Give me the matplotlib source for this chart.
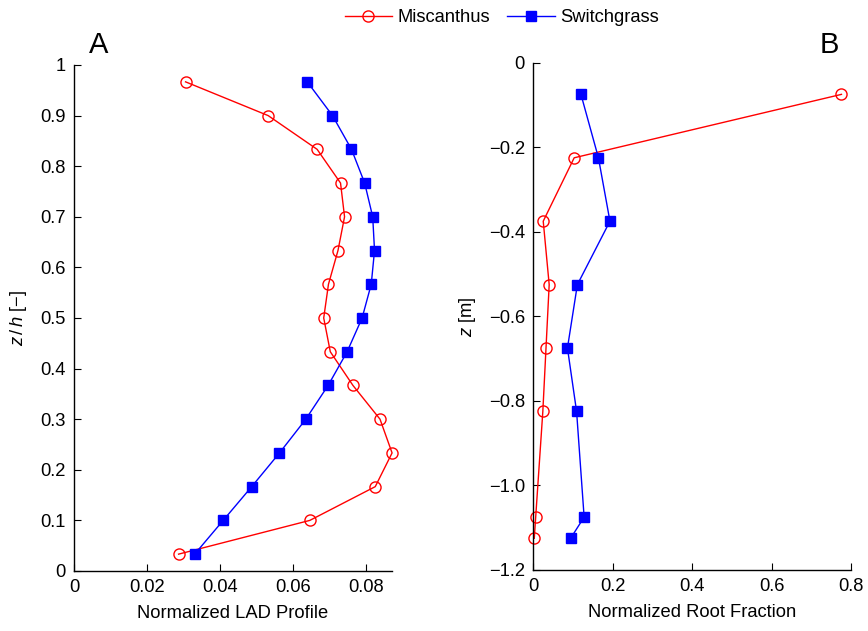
import matplotlib
matplotlib.use("Agg")
import matplotlib.pyplot as plt
from matplotlib.lines import Line2D

plt.rcParams["font.family"] = ["Liberation Sans", "DejaVu Sans"]
plt.rcParams["mathtext.fontset"] = "custom"
plt.rcParams["mathtext.it"] = "Liberation Sans:italic"
plt.rcParams["mathtext.rm"] = "Liberation Sans"

FS = 13.2

# Canopy: normalized height and leaf area density profile
z_h = [0.0333, 0.1, 0.1667, 0.2333, 0.3, 0.3667, 0.4333, 0.5,
       0.5667, 0.6333, 0.7, 0.7667, 0.8333, 0.9, 0.9667]
lad_misc = [0.0286, 0.0645, 0.0824, 0.0870, 0.0837, 0.0763, 0.0701, 0.0683,
            0.0696, 0.0722, 0.0740, 0.0729, 0.0665, 0.0531, 0.0305]
lad_switch = [0.0330, 0.0408, 0.0486, 0.0562, 0.0634, 0.0695, 0.0747, 0.0788,
              0.0813, 0.0822, 0.0817, 0.0795, 0.0759, 0.0707, 0.0638]

# Roots: depth [m] and normalized root fraction
depth = [-0.075, -0.225, -0.375, -0.525, -0.675, -0.825, -1.075, -1.125]
root_misc = [0.776, 0.103, 0.025, 0.040, 0.032, 0.024, 0.006, 0.0025]
root_switch = [0.120, 0.164, 0.193, 0.111, 0.086, 0.109, 0.128, 0.094]

RED = (1, 0, 0)
BLUE = (0, 0, 1)
misc_style = dict(color=RED, lw=1.0, marker="o", ms=8, mfc="none", mec=RED, mew=1.0)
switch_style = dict(color=BLUE, lw=1.0, marker="s", ms=7, mfc=BLUE, mec=BLUE)


def style_axes(ax):
    for side in ("top", "right"):
        ax.spines[side].set_visible(False)
    for side in ("left", "bottom"):
        ax.spines[side].set_linewidth(1.0)
    ax.tick_params(direction="in", length=5, width=0.8, labelsize=FS, pad=6)


fig = plt.figure(figsize=(8.68, 6.31), dpi=100)

# Panel A: leaf area density
ax1 = fig.add_axes([0.0853, 0.0951, 0.3664, 0.8019])
ax1.plot(lad_misc, z_h, clip_on=False, **misc_style)
ax1.plot(lad_switch, z_h, clip_on=False, **switch_style)
ax1.set_xlim(0, max(lad_misc))
ax1.set_ylim(0, 1)
ax1.set_xticks([0, 0.02, 0.04, 0.06, 0.08])
ax1.set_xticklabels(["0", "0.02", "0.04", "0.06", "0.08"])
ax1.set_yticks([i / 10 for i in range(11)])
ax1.set_yticklabels(["0"] + [f"{i / 10:.1f}" for i in range(1, 10)] + ["1"])
ax1.set_xlabel("Normalized LAD Profile", fontsize=FS, labelpad=6)
ax1.set_ylabel("$z\\,/\\,h$ [\u2212]", fontsize=FS, labelpad=8)
style_axes(ax1)
fig.text(0.103, 0.928, "A", fontsize=21, ha="left", va="center")

# Panel B: root distribution
ax2 = fig.add_axes([0.6144, 0.0967, 0.366, 0.804])
ax2.plot(root_misc, depth, clip_on=False, **misc_style)
ax2.plot(root_switch, depth, clip_on=False, **switch_style)
ax2.set_xlim(0, 0.8)
ax2.set_ylim(-1.2, 0)
ax2.set_xticks([0, 0.2, 0.4, 0.6, 0.8])
ax2.set_xticklabels(["0", "0.2", "0.4", "0.6", "0.8"])
ax2.set_yticks([-1.2, -1.0, -0.8, -0.6, -0.4, -0.2, 0])
ax2.set_yticklabels(["\u22121.2", "\u22121.0", "\u22120.8", "\u22120.6",
                     "\u22120.4", "\u22120.2", "0"])
ax2.set_xlabel("Normalized Root Fraction", fontsize=FS, labelpad=6)
ax2.set_ylabel("$z$ [m]", fontsize=FS, labelpad=8)
style_axes(ax2)
fig.text(0.944, 0.928, "B", fontsize=21, ha="left", va="center")

handles = [Line2D([], [], **misc_style), Line2D([], [], **switch_style)]
fig.legend(handles, ["Miscanthus", "Switchgrass"], loc="center",
           bbox_to_anchor=(0.578, 0.972), ncol=2, frameon=False, fontsize=FS,
           handlelength=2.6, columnspacing=0.9, handletextpad=0.3)

fig.savefig("out.png", dpi=100)
